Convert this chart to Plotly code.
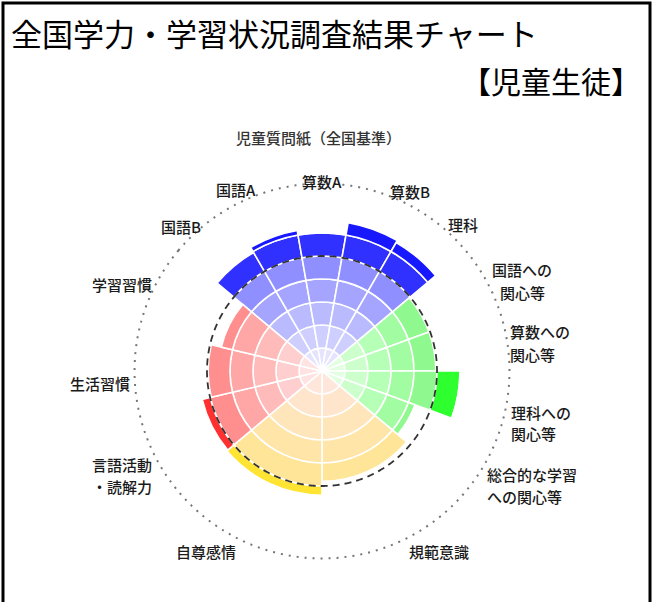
import numpy as np
import plotly.graph_objects as go

# ---------------- data ----------------
categories = ["国語B", "国語A", "算数A", "算数B", "理科",
              "国語への関心等", "算数への関心等", "理科への関心等", "総合的な学習への関心等",
              "規範意識", "自尊感情",
              "言語活動・読解力", "生活習慣", "学習習慣"]
values = [119, 124, 121, 131, 129,
          99, 99, 121, 86,
          96, 108,
          107, 99, 90]
groups = ["教科"] * 5 + ["関心"] * 4 + ["規範"] * 2 + ["習慣"] * 3
group_span = {"教科": 100, "関心": 80, "規範": 100, "習慣": 80}   # degrees per group
standard = 100          # 全国基準
ring_levels = [0, 20, 40, 60, 80, 100, 120, 140]

group_colors = {
    "教科": ["#E4E4FF", "#CFCFFF", "#BABAFF", "#A5A5FF", "#8F8FFF", "#3030FF", "#1818FF"],
    "関心": ["#E2FFE2", "#CCFFCC", "#B6FFB6", "#A2FCA2", "#8FF98F", "#2EFF2E", "#22EE22"],
    "規範": ["#FFE6DA", "#FFE5CC", "#FFE5BA", "#FFE5A8", "#FFE598", "#FFE433", "#FFDD22"],
    "習慣": ["#FFE2E2", "#FFCECE", "#FFBABA", "#FFA6A6", "#FF8F8F", "#FF3030", "#FF1A1A"],
}

# label lines (category -> lines)
label_lines = {
    "国語への関心等": ["国語への", "関心等"],
    "算数への関心等": ["算数への", "関心等"],
    "理科への関心等": ["理科への", "関心等"],
    "総合的な学習への関心等": ["総合的な学習", "への関心等"],
    "言語活動・読解力": ["言語活動", "・読解力"],
}

# ---------------- geometry (layout) ----------------
W, H = 656, 602
CX, CY = 322, 371          # polar centre in px
R_DOMAIN = 190             # px radius of polar domain
R_MAX = 165.2              # radial range that maps to R_DOMAIN
GUIDE_R = 163              # dotted guide circle

counts = {g: groups.count(g) for g in group_span}
widths = [group_span[g] / counts[g] for g in groups]
thetas = []
acc = 0.0
for w in widths:
    thetas.append(acc + w / 2)
    acc += w

fig = go.Figure()

for k in range(len(ring_levels) - 1):
    lo, hi = ring_levels[k], ring_levels[k + 1]
    th, rr, bb, ww, cc = [], [], [], [], []
    for i, v in enumerate(values):
        top = min(v, hi)
        if top > lo:
            th.append(thetas[i])
            rr.append(top - lo)
            bb.append(lo)
            ww.append(widths[i])
            cc.append(group_colors[groups[i]][k])
    if th:
        fig.add_trace(go.Barpolar(
            theta=th, r=rr, base=bb, width=ww,
            marker=dict(color=cc, line=dict(color="white", width=1.6)),
            hoverinfo="skip", showlegend=False))

circle_theta = np.linspace(0, 360, 721)
fig.add_trace(go.Scatterpolar(
    theta=circle_theta, r=[GUIDE_R] * len(circle_theta), mode="lines",
    line=dict(color="#777777", width=2, dash="2px,6px"),
    hoverinfo="skip", showlegend=False))
fig.add_trace(go.Scatterpolar(
    theta=circle_theta, r=[standard] * len(circle_theta), mode="lines",
    line=dict(color="#333333", width=1.8, dash="7px,5px"),
    hoverinfo="skip", showlegend=False))

fig.update_layout(
    width=W, height=H,
    margin=dict(l=0, r=0, t=0, b=0),
    paper_bgcolor="white",
    polar=dict(
        domain=dict(x=[(CX - R_DOMAIN) / W, (CX + R_DOMAIN) / W],
                    y=[(H - CY - R_DOMAIN) / H, (H - CY + R_DOMAIN) / H]),
        bgcolor="white",
        radialaxis=dict(visible=False, range=[0, R_MAX]),
        angularaxis=dict(visible=False, direction="clockwise", rotation=140,
                         thetaunit="degrees"),
        bargap=0,
    ),
)


def px(x, y):
    return x / W, 1 - y / H


FONT = "Noto Sans CJK JP, Noto Sans CJK SC, sans-serif"
annotations = []


def add_text(text, x, y, size, xanchor="center", color="#1a1a1a", weight="normal"):
    ax, ay = px(x, y)
    annotations.append(dict(text=text, x=ax, y=ay, xref="paper", yref="paper",
                            xanchor=xanchor, yanchor="middle", borderpad=0,
                            showarrow=False,
                            font=dict(family=FONT, size=size, color=color, weight=weight)))


add_text("全国学力・学習状況調査結果チャート", 10, 33, 31, xanchor="left", color="#000000")
add_text("【児童生徒】", 642, 80, 30, xanchor="right", color="#000000")
add_text("児童質問紙（全国基準）", 318, 137, 15, color="#333333", weight=500)

# (x, y of first line, anchor, line step)
label_pos = {
    "国語B": (202, 227, "right", 0),
    "国語A": (236, 190, "center", 0),
    "算数A": (322, 181, "center", 0),
    "算数B": (410, 191, "center", 0),
    "理科": (463, 224, "center", 0),
    "国語への関心等": (522, 270, "center", 22),
    "算数への関心等": (509, 332, "left", 22),
    "理科への関心等": (510, 412, "left", 22),
    "総合的な学習への関心等": (486, 474, "left", 22),
    "規範意識": (439, 551, "center", 0),
    "自尊感情": (206, 551, "center", 0),
    "言語活動・読解力": (153, 464, "right", 22),
    "生活習慣": (131, 383, "right", 0),
    "学習習慣": (153, 284, "right", 0),
}
for c in categories:
    x, y, xa, step = label_pos[c]
    for j, line in enumerate(label_lines.get(c, [c])):
        add_text(line, x, y + j * step, 15, xanchor=xa, weight=500)

fig.update_layout(annotations=annotations)

fig.add_shape(type="rect", xref="paper", yref="paper",
              x0=3 / W, x1=650 / W, y0=-0.05, y1=1 - 3 / H,
              line=dict(color="black", width=3), fillcolor="rgba(0,0,0,0)")

fig.write_html("out.html", config={"displayModeBar": False},
               post_script="document.body.style.margin='0';document.body.style.overflow='hidden';")
